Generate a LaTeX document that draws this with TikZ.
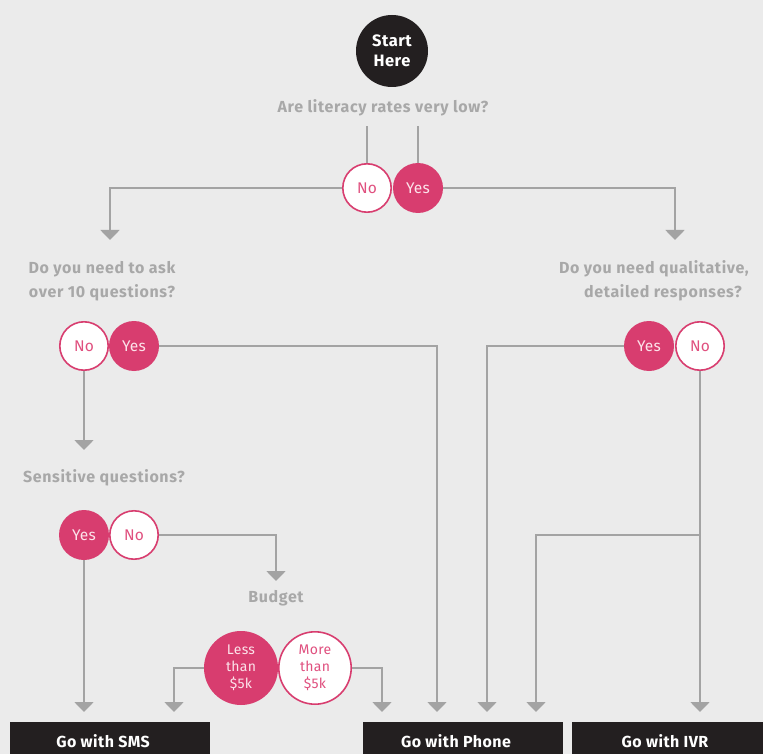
\documentclass[tikz,border=0pt]{standalone}
\usepackage{fontspec}
\setmainfont{Fira Sans}
\newfontfamily\qfont[LetterSpace=4]{Fira Sans}
\newfontfamily\bfont[LetterSpace=3]{Fira Sans}
\newfontfamily\cfont[LetterSpace=2]{Fira Sans}
\usetikzlibrary{arrows.meta}
\definecolor{bg}{HTML}{EBEBEB}
\definecolor{pinkc}{HTML}{D83D6F}
\definecolor{pinktxt}{HTML}{E0507F}
\definecolor{lighttxt}{HTML}{FCE3EA}
\definecolor{lgrey}{HTML}{A3A3A3}
\definecolor{qgrey}{HTML}{A8A8A8}
\definecolor{blk}{HTML}{231F20}
\begin{document}
\begin{tikzpicture}[x=1pt,y=-1pt,
  conn/.style={draw=lgrey, line width=1.8pt},
  arr/.style={conn, -{Triangle[width=19pt,length=10pt]}},
  yesc/.style={circle, fill=pinkc, minimum size=50pt, inner sep=0pt, text=lighttxt, font=\cfont\fontsize{15.5}{17}\selectfont},
  noc/.style={circle, fill=white, draw=pinkc, line width=1.6pt, minimum size=48.4pt, inner sep=0pt, text=pinktxt, font=\cfont\fontsize{15.5}{17}\selectfont},
  bigyes/.style={yesc, minimum size=74pt, align=center, font=\cfont\fontsize{14}{17}\selectfont},
  bigno/.style={noc, minimum size=72.4pt, align=center, font=\cfont\fontsize{14}{17}\selectfont},
  quest/.style={text=qgrey, inner sep=0pt, align=center, font=\qfont\bfseries\fontsize{16}{24}\selectfont},
  endbox/.style={fill=blk, text=white, anchor=north, minimum width=200pt, minimum height=32pt, inner sep=0pt, text height=18pt, text depth=0pt, font=\bfont\bfseries\fontsize{16}{18}\selectfont}
]
\path[fill=bg] (0,0) rectangle (763,754);
\useasboundingbox (0,0) rectangle (763,754);

% start
\node[circle, fill=blk, minimum size=72pt, inner sep=0pt, text=white, align=center, font=\bfont\bfseries\fontsize{16.5}{19.5}\selectfont] (start) at (392,51) {Start\\Here};

% question 1
\node[quest] (q1) at (383,108) {Are literacy rates very low?};
\node[noc] (n1) at (367,188) {No};
\node[yesc] (y1) at (418,188) {Yes};
\draw[conn] (n1.north) -- ++(0,-37);
\draw[conn] (y1.north) -- ++(0,-37);
\coordinate (a1) at (110,240);
\coordinate (a2) at (675,240);
\draw[arr] (n1.west) -| (a1);
\draw[arr] (y1.east) -| (a2);

% question 2 (left)
\node[quest] (q2) at (102,281) {Do you need to ask\\over 10 questions?};
\node[noc] (n2) at (84,346) {No};
\node[yesc] (y2) at (134,346) {Yes};

% question 3
\node[quest] (q3) at (104,478) {Sensitive questions?};
\node[yesc] (y3) at (84,535) {Yes};
\node[noc] (n3) at (134,535) {No};

% budget
\coordinate (a4) at (276,581);
\node[quest] (q4) at (276,598) {Budget};
\node[bigyes] (less) at (241,668) {Less\\than\\\$5k};
\node[bigno] (more) at (315,668) {More\\than\\\$5k};

% question 5 (right)
\node[quest, align=right, anchor=east] (q5) at (749,281) {Do you need qualitative,\\detailed responses?\hspace*{7pt}};
\node[yesc] (y5) at (649,346) {Yes};
\node[noc] (n5) at (700,346) {No};

% end boxes
\node[endbox] (sms) at (110,722) {Go with SMS\hspace*{14pt}};
\node[endbox] (phone) at (463,722) {Go with Phone\hspace*{14pt}};
\node[endbox] (ivr) at (672,722) {Go with IVR\hspace*{14pt}};

% arrow targets above boxes
\coordinate (t1) at (84,712);
\coordinate (t2) at (174,712);
\coordinate (t3) at (382,712);
\coordinate (t4) at (437,712);
\coordinate (t5) at (487,712);
\coordinate (t6) at (536,712);
\coordinate (t7) at (700,712);
\coordinate (a3) at (84,450);
\coordinate (br) at (700,535);

% connectors
\draw[arr] (y2.east) -| (t4);
\draw[arr] (n2.south) -- (a3);
\draw[arr] (y3.south) -- (t1);
\draw[arr] (n3.east) -| (a4);
\draw[arr] (less.west) -| (t2);
\draw[arr] (more.east) -| (t3);
\draw[arr] (y5.west) -| (t5);
\draw[arr] (n5.south) -- (t7);
\draw[arr] (br) -| (t6);
\end{tikzpicture}
\end{document}
